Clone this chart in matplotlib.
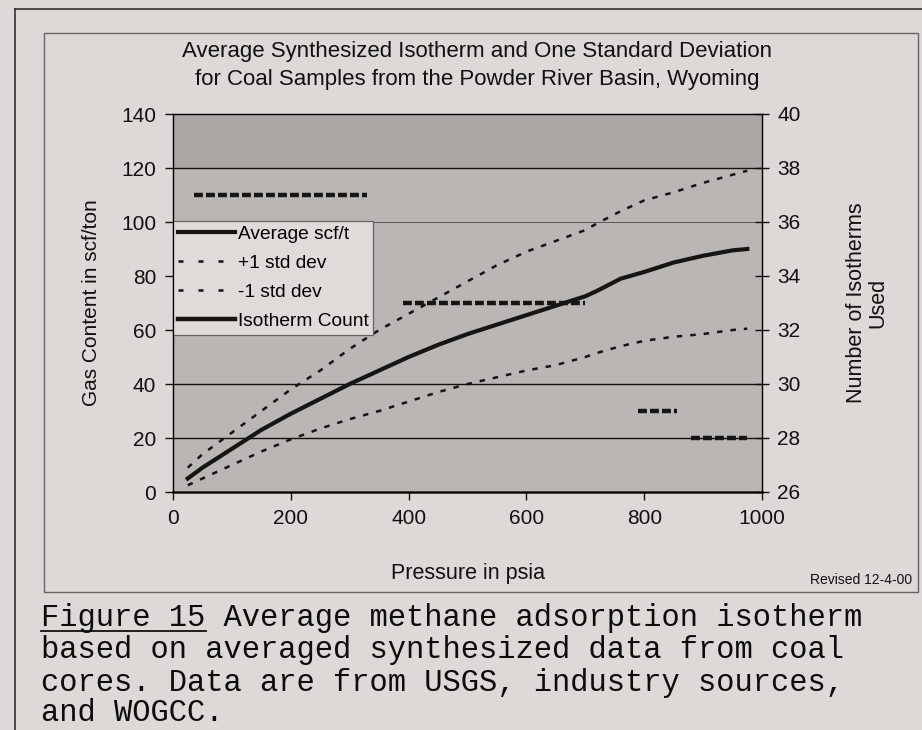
import numpy as np
import matplotlib
matplotlib.use("Agg")
import matplotlib.pyplot as plt
from matplotlib.lines import Line2D
from matplotlib.patches import Rectangle

# ----------------------------
# Data
# ----------------------------
pressure = [25, 50, 100, 150, 200, 250, 300, 350, 400, 450, 500, 550,
            600, 650, 700, 720, 760, 800, 850, 900, 950, 975]
avg_scf = [5, 9, 16, 23, 29, 34.5, 40, 45, 50, 54.5, 58.5, 62,
           65.5, 69, 72.5, 74.5, 79, 81.5, 85, 87.5, 89.5, 90]
plus_sd = [9, 14, 22, 30, 38, 45, 53, 60, 66, 72, 78, 84,
           89, 93, 97, 99.5, 104, 108, 111, 114.5, 117.5, 119]
minus_sd = [2.5, 5, 10, 15, 19.5, 23.5, 27, 30, 33.5, 37, 40, 42.5,
            45, 47, 50, 51.5, 54, 56, 57.5, 58.5, 60, 60.5]

# isotherm count: gaps (NaN) where the scan shows no line
count_p = [35, 330, 340, 390, 700, 710, 790, 855, 865, 880, 975]
count_n = [37, 37, np.nan, 33, 33, np.nan, 29, 29, np.nan, 28, 28]

left_ticks = [0, 20, 40, 60, 80, 100, 120, 140]
right_ticks = [26, 28, 30, 32, 34, 36, 38, 40]
x_ticks = [0, 200, 400, 600, 800, 1000]
# gridlines that survived in the scan (60 and 80 faded out)
grid_dark = [20, 40, 120]
grid_faint = [100]

title_lines = ["Average Synthesized Isotherm and One Standard Deviation",
               "for Coal Samples from the Powder River Basin, Wyoming"]
caption_lines = [
    "Figure 15 Average methane adsorption isotherm",
    "based on averaged synthesized data from coal",
    "cores. Data are from USGS, industry sources,",
    "and WOGCC.",
]

# ----------------------------
# Figure
# ----------------------------
W, H = 922, 730
paper = "#dcd9d6"
plot_bg = "#b9b6b4"
ink = "#151515"

plt.rcParams["font.family"] = ["Liberation Sans", "DejaVu Sans"]

fig = plt.figure(figsize=(W / 100, H / 100), dpi=100, facecolor=paper)


def fx(px):
    return px / W


def fy(py):
    return 1 - py / H


# frames: outer page frame and chart box
fig.add_artist(Line2D([fx(15), fx(922)], [fy(9), fy(9)], color="#333", lw=1.2))
fig.add_artist(Line2D([fx(15), fx(15)], [fy(9), fy(730)], color="#333", lw=1.2))
fig.add_artist(Rectangle((fx(44), fy(592)), fx(918) - fx(44), fy(33) - fy(592),
                         transform=fig.transFigure, fill=False,
                         edgecolor="#666", lw=1.0))

ax = fig.add_axes([fx(173), fy(492), fx(762) - fx(173), fy(114) - fy(492)])
ax.set_facecolor(plot_bg)
ax.axhspan(120, 140, color="#aaa7a5", zorder=0, lw=0)
for g in grid_dark:
    ax.axhline(g, color="#111", lw=1.0, zorder=1)
for g in grid_faint:
    ax.axhline(g, color="#555", lw=0.7, zorder=1)

l1, = ax.plot(pressure, avg_scf, color=ink, lw=3.0, label="Average scf/t", zorder=4)
l2, = ax.plot(pressure, plus_sd, color=ink, lw=1.8, dashes=(2.2, 3.2),
              label="+1 std dev", zorder=4)
l3, = ax.plot(pressure, minus_sd, color=ink, lw=1.8, dashes=(2.2, 3.2),
              label="-1 std dev", zorder=4)

ax.set_xlim(0, 1000)
ax.set_ylim(0, 140)
ax.set_xticks(x_ticks)
ax.set_yticks(left_ticks)
for s in ax.spines.values():
    s.set_color("#222")
    s.set_linewidth(1.0)
ax.spines["bottom"].set_linewidth(1.8)
ax.tick_params(axis="both", labelsize=15, colors="#111", direction="out",
               length=6, width=1.0, pad=6)

ax2 = ax.twinx()
ax2.plot(count_p, count_n, color=ink, lw=3.2, dashes=(2.0, 0.7), zorder=5)
ax2.set_ylim(26, 40)
ax2.set_yticks(right_ticks)
ax2.tick_params(axis="y", labelsize=15, colors="#111", direction="inout",
                length=10, width=1.0, pad=6)

ax.set_ylabel("Gas Content in scf/ton", fontsize=15, color="#111")
ax.yaxis.set_label_coords(-0.122, 0.5)
ax2.set_ylabel("Number of Isotherms\nUsed", fontsize=15.5, color="#111",
               linespacing=1.05)
ax2.yaxis.set_label_coords(1.142, 0.5)
ax.set_xlabel("Pressure in psia", fontsize=15.5, color="#111")
ax.xaxis.set_label_coords(0.5, -0.187)

# legend: count shown as a solid heavy line like the original key
count_key = Line2D([], [], color=ink, lw=3.2, label="Isotherm Count")
leg = ax.legend(handles=[l1, l2, l3, count_key], loc="upper left",
                bbox_to_anchor=(0.0, 0.717), fontsize=13.8, frameon=True,
                fancybox=False, framealpha=1, facecolor="#dedbd9",
                edgecolor="#666", handlelength=3.0, handletextpad=0.12,
                labelspacing=0.6, borderpad=0.25, borderaxespad=0)
leg.get_frame().set_linewidth(0.9)
leg.set_zorder(10)
for h in leg.get_lines()[1:3]:
    h.set_dashes((2.0, 6.0))

xc = 0.5 * (fx(44) + fx(918)) - 0.004
fig.text(xc, fy(52), title_lines[0], ha="center", va="center",
         fontsize=16, color="#111")
fig.text(xc, fy(80), title_lines[1], ha="center", va="center",
         fontsize=16, color="#111")
fig.text(fx(912), fy(580), "Revised 12-4-00", ha="right", va="center",
         fontsize=10, color="#111")

# caption below the chart box
cap_y = [618, 650, 683, 713]
for line, yy in zip(caption_lines, cap_y):
    fig.text(fx(41), fy(yy), line, ha="left", va="center", fontsize=22,
             family="Liberation Mono", color="#0d0d0d")
fig.add_artist(Line2D([fx(41), fx(41 + 9 * 18.3)], [fy(631), fy(631)],
                      color="#111", lw=1.3))

fig.savefig("out.png", dpi=100, facecolor=paper)
